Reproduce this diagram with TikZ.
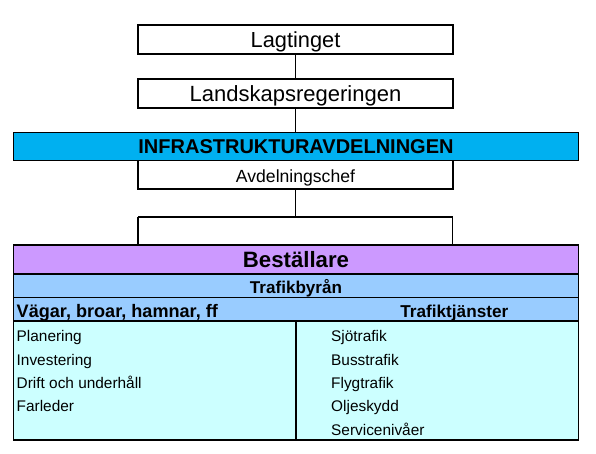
\documentclass[tikz,border=0pt]{standalone}
\usepackage{fontspec}
\setmainfont{Liberation Sans}
\definecolor{infra}{RGB}{0,176,240}
\definecolor{purp}{RGB}{204,153,255}
\definecolor{lblue}{RGB}{153,204,255}
\definecolor{lcyan}{RGB}{204,255,255}
\begin{document}
\begin{tikzpicture}[x=1pt,y=-1pt,
  topbox/.style={draw=black,line width=1.8pt,fill=white,minimum width=315pt,minimum height=29pt,inner sep=0pt,text depth=2pt},
  bar/.style={draw=black,line width=1.2pt,minimum width=565pt,inner sep=0pt,text depth=2pt},
  conn/.style={draw=black,line width=1.1pt},
  item/.style={anchor=base west,inner sep=0pt,font=\fontsize{15.4}{17}\selectfont}]
\useasboundingbox (0,0) rectangle (596,453);
\node[topbox,text height=19pt,font=\fontsize{21.8}{24}\selectfont] (lag) at (295.5,39.2) {Lagtinget};
\node[topbox,text height=18.6pt,font=\fontsize{22}{24}\selectfont] (land) at (295.5,93.4) {Landskapsregeringen};
\node[topbox,text height=19pt,font=\fontsize{17.6}{19}\selectfont] (avd) at (295.5,174.2) {Avdelningschef};
\node[bar,fill=infra,minimum height=28pt,text height=16.2pt,font=\bfseries\fontsize{20}{22}\selectfont] (infra) at (296,146.2) {INFRASTRUKTURAVDELNINGEN};
\draw[conn] (lag.south) -- (land.north);
\draw[conn] (land.south) -- (land.south |- infra.north);
\node[bar,fill=purp,minimum height=29pt,text height=17.6pt,font=\bfseries\fontsize{22.2}{24}\selectfont] (best) at (296,259.5) {Beställare};
\node[bar,fill=lblue,minimum height=23.7pt,text height=17pt,font=\bfseries\fontsize{17.1}{19}\selectfont] (byran) at (296,285.8) {Trafikbyrån};
\node[bar,fill=lblue,minimum height=23.3pt] (row) at (296,309.4) {};
\node[bar,fill=lcyan,minimum height=119pt] (low) at (296,380.5) {};
\coordinate (j) at (295.5,217);
\coordinate (jl) at (138,217);
\coordinate (jr) at (452.7,217);
\draw[conn] (avd.south) -- (j);
\draw[conn] (jl) -- (jr);
\draw[conn] (jl) -- (jl |- best.north);
\draw[conn] (jr) -- (jr |- best.north);
\coordinate (dt) at (296,321);
\draw[conn,line width=1.2pt] (dt) -- (dt |- low.south);
\node[anchor=base west,inner sep=0pt,font=\bfseries\fontsize{18.1}{20}\selectfont] (vag) at (16.5,317.3) {Vägar, broar, hamnar, ff};
\node[anchor=base,inner sep=0pt,font=\bfseries\fontsize{17.2}{19}\selectfont] (tj) at (454.3,317.3) {Trafiktjänster};
\node[item] (i1) at (16.5,341.7) {Planering};
\node[item] (i2) at (16.5,365) {Investering};
\node[item] (i3) at (16.5,388.3) {Drift och underhåll};
\node[item] (i4) at (16.5,411.7) {Farleder};
\node[item] (j1) at (331,341.7) {Sjötrafik};
\node[item] (j2) at (331,365) {Busstrafik};
\node[item] (j3) at (331,388.3) {Flygtrafik};
\node[item] (j4) at (331,411.7) {Oljeskydd};
\node[item] (j5) at (331,435.5) {Servicenivåer};
\end{tikzpicture}
\end{document}
